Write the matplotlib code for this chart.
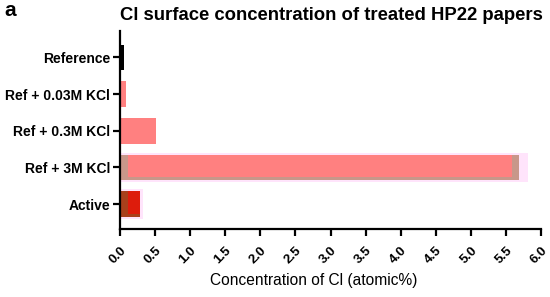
import matplotlib
matplotlib.use("Agg")
import matplotlib.pyplot as plt
import numpy as np

plt.rcParams['font.family'] = ['Liberation Sans', 'DejaVu Sans']

categories = ["Reference", "Ref + 0.03M KCl", "Ref + 0.3M KCl", "Ref + 3M KCl", "Active"]
values = [0.06, 0.09, 0.51, 5.68, 0.29]
colors = ["#000000", "#ff8080", "#ff8080", "#c8978a", "#a8401c"]
# overlay layers (visual artefacts in the original): halo extent, inner bar start/end
halo_values = [0.0, 0.0, 0.0, 5.81, 0.33]
inner_start = [0.0, 0.0, 0.0, 0.11, 0.11]
inner_end = [0.0, 0.0, 0.0, 5.58, 0.29]
inner_colors = ["#000000", "#ff8080", "#ff8080", "#ff8080", "#dd1c0c"]
xticks = np.arange(0, 6.01, 0.5)

fig = plt.figure(figsize=(5.5, 2.97), dpi=100)
ax = fig.add_axes([120/550, 1-229/297, 421/550, 198/297])

y = np.arange(len(categories))
for i in range(len(categories)):
    if halo_values[i] > 0:
        ax.barh(y[i], halo_values[i], height=0.80, color="#ffe4fb", zorder=1)
ax.barh(y, values, height=0.70, color=colors, zorder=2)
for i in range(len(categories)):
    if inner_end[i] > 0:
        ax.barh(y[i] - 0.04, inner_end[i] - inner_start[i], left=inner_start[i],
                height=0.62, color=inner_colors[i], zorder=3)

ax.set_ylim(len(categories) - 1 + 0.68, -0.72)
ax.set_xlim(0, 6.0)
ax.set_yticks(y)
ax.set_yticklabels(categories, fontsize=10, fontweight='bold')
ax.set_xticks(xticks)
ax.set_xticklabels([f"{v:.1f}" for v in xticks], rotation=45, ha='right',
                   rotation_mode='anchor', fontsize=9.5, fontweight='bold')
for s in ['top', 'right']:
    ax.spines[s].set_visible(False)
for s in ['left', 'bottom']:
    ax.spines[s].set_linewidth(1.6)
ax.tick_params(axis='both', width=1.6, length=5, direction='out', pad=2)
ax.tick_params(axis='x', pad=6)

fig.text(331/550, 1-15/297, "Cl surface concentration of treated HP22 papers",
         ha='center', va='center', fontsize=13.3, fontweight='bold')
fig.text(4/550, 1-11/297, "a", ha='left', va='center', fontsize=15, fontweight='bold')
fig.text(314/550, 1-280/297, "Concentration of Cl (atomic%)", ha='center', va='center',
         fontsize=11.2)

fig.savefig("out.png", dpi=100)
